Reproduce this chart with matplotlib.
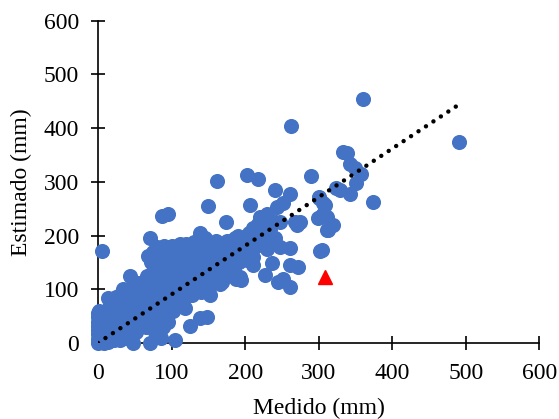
import numpy as np
import matplotlib
matplotlib.use("Agg")
import matplotlib.pyplot as plt

plt.rcParams['font.family'] = ['Liberation Serif', 'DejaVu Serif']

medido = [
    0, 0, 0, 0, 0, 0, 0, 0, 2, 2, 2, 2, 2, 2, 2, 2, 4, 4, 4, 4, 5, 6, 6, 6, 6, 8, 8, 8, 8, 10, 10, 10, 10,
    12, 12, 12, 14, 14, 15, 15, 16, 18, 18, 18, 20, 20, 20, 20, 22, 22, 24, 24, 25, 26, 26, 28, 28, 30, 30, 30, 30,
    32, 32, 34, 35, 35, 35, 38, 38, 38, 40, 40, 40, 42, 42, 44, 45, 45, 45, 46, 48, 48, 48, 50, 50, 50,
    52, 52, 55, 55, 55, 58, 58, 58, 60, 60, 60, 62, 62, 65, 65, 65, 66, 68, 68, 68, 70, 70, 70, 70,
    71, 72, 72, 74, 74, 75, 75, 78, 78, 78, 78, 80, 80, 80, 82, 82, 84, 84, 85, 86, 87, 88, 88, 88, 88,
    90, 90, 90, 92, 92, 94, 94, 95, 96, 96, 98, 98, 98, 100, 100, 85, 95,
    102, 102, 102, 104, 104, 105, 106, 108, 108, 110, 110, 112, 114, 115, 116, 118, 118, 118, 120, 120,
    122, 122, 124, 125, 126, 128, 128, 130, 130, 132, 134, 135, 136, 138, 138, 140, 140, 142, 144, 145,
    146, 148, 148, 149, 150, 150, 152, 152, 155, 156, 158, 160, 160,
    162, 164, 165, 166, 168, 168, 170, 172, 174, 175, 178, 180, 182, 185, 186, 188, 190, 190, 192, 195, 195, 198,
    193, 193, 197, 202, 211, 211, 202, 218, 206, 220, 193, 200, 205, 210, 215, 218, 234, 247, 240, 261,
    243, 252, 268, 270, 247, 261, 236, 227, 261, 272, 245, 261, 252, 290, 262, 301, 306, 302, 317, 313,
    304, 211, 215, 225, 230, 240, 228, 230, 238,
    360, 490, 333, 338, 342, 349, 358, 351, 329, 342, 324, 374, 301, 308, 306, 299, 311, 320, 311, 302, 274,
]
estimado = [
    0, 8, 16, 24, 32, 40, 48, 56, 4, 12, 20, 28, 36, 44, 52, 60, 2, 18, 34, 50, 171, 8, 26, 42, 58, 0, 14, 30, 46, 6, 22, 38, 54,
    10, 30, 62, 83, 2, 20, 45, 70, 8, 35, 55, 15, 28, 48, 75, 5, 40, 22, 60, 85, 12, 35, 50, 70, 5, 25, 42, 90,
    15, 60, 101, 30, 48, 78, 10, 40, 65, 22, 55, 90, 35, 75, 124, 15, 50, 100, 65, 0, 30, 85, 45, 70, 108,
    20, 95, 55, 80, 112, 35, 65, 105, 45, 90, 112, 70, 110, 30, 55, 100, 125, 80, 162, 118, 0, 45, 65, 110,
    195, 90, 150, 55, 130, 75, 170, 40, 20, 100, 145, 65, 120, 178, 85, 155, 50, 110, 135, 170, 236, 30, 95, 150, 75,
    60, 125, 180, 105, 160, 80, 140, 241, 115, 170, 65, 95, 150, 130, 180, 10, 40,
    60, 85, 160, 110, 140, 5, 175, 70, 125, 95, 150, 185, 110, 135, 165, 65, 85, 150, 120, 185,
    100, 160, 140, 31, 175, 90, 120, 155, 188, 105, 140, 170, 125, 46, 204, 95, 155, 180, 115, 195,
    140, 49, 165, 255, 100, 125, 89, 185, 150, 170, 120, 140, 190,
    301, 160, 180, 110, 114, 145, 170, 130, 225, 190, 150, 160, 175, 140, 195, 120, 170, 200, 150, 117, 185, 160,
    123, 173, 176, 154, 160, 185, 312, 306, 256, 235, 180, 195, 205, 215, 200, 222, 213, 225, 284, 278,
    253, 260, 225, 219, 179, 176, 148, 126, 145, 142, 114, 105, 120, 310, 404, 272, 260, 235, 219, 210,
    173, 145, 180, 190, 175, 195, 210, 240, 228,
    455, 374, 356, 354, 334, 325, 315, 297, 284, 278, 288, 263, 269, 257, 241, 232, 235, 219, 210, 171, 225,
]

# highlighted point (red triangle)
punto_x = [308]
punto_y = [123]

# linear trend line
pendiente = 0.905
intercepto = 0.0
trend_x = np.array([0, 487])

fig = plt.figure(figsize=(5.59, 4.19), dpi=100)
ax = fig.add_axes([0.1753, 0.1814, 0.7898, 0.7692])

ax.scatter(medido, estimado, s=118, color='#4472C4', linewidths=0, zorder=3, clip_on=False)
ax.plot(trend_x, pendiente * trend_x + intercepto, color='black', lw=3.2,
        linestyle=(0, (0.01, 2.0)), dash_capstyle='round', zorder=4)
ax.plot(punto_x, punto_y, marker='^', ms=10, color='#FF0000', ls='none', zorder=5, clip_on=False)

ax.set_xlim(0, 600)
ax.set_ylim(0, 600)
ax.set_xticks(range(0, 601, 100))
ax.set_yticks(range(0, 601, 100))
for s in ['top', 'right']:
    ax.spines[s].set_visible(False)
for s in ['left', 'bottom']:
    ax.spines[s].set_linewidth(1.2)
ax.tick_params(direction='inout', length=9.5, width=1.2, labelsize=17)
ax.tick_params(axis='x', pad=10)
ax.tick_params(axis='y', pad=9)
ax.set_xlabel('Medido (mm)', fontsize=17, labelpad=10)
ax.set_ylabel('Estimado (mm)', fontsize=17, labelpad=8)

fig.savefig('out.png', dpi=100)
